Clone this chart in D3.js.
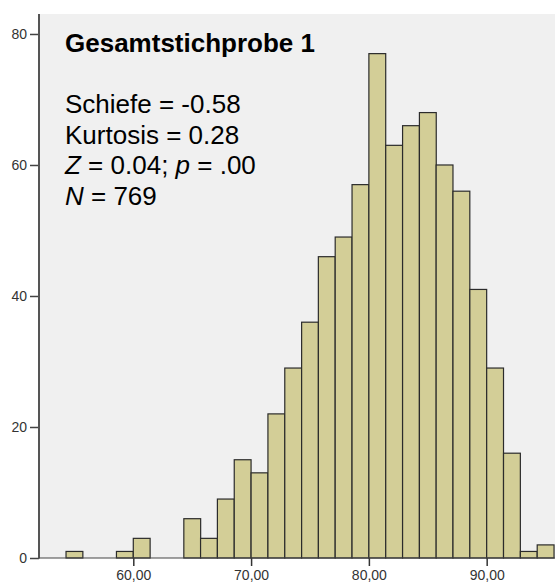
<!DOCTYPE html>
<html><head><meta charset="utf-8">
<script src="https://cdn.jsdelivr.net/npm/d3@7"></script>
<style>
html,body{margin:0;padding:0;background:#fff;}
svg{display:block;font-family:Arial,"Liberation Sans",sans-serif;}
</style></head>
<body>
<script>
// bin lower edges (width 10/7) and counts
const binStarts = [54.29, 58.57, 60.00, 64.29, 65.71, 67.14, 68.57, 70.00, 71.43, 72.86, 74.29, 75.71, 77.14, 78.57, 80.00, 81.43, 82.86, 84.29, 85.71, 87.14, 88.57, 90.00, 91.43, 92.86, 94.29];
const counts    = [1,     1,     3,     6,     3,     9,     15,    13,    22,    29,    36,    46,    49,    57,    77,    63,    66,    68,    60,    56,    41,    29,    16,    1,     2];
const binWidth = 1.4286;
const xTicks = [60, 70, 80, 90];
const xTickLabels = ["60,00", "70,00", "80,00", "90,00"];
const yTicks = [0, 20, 40, 60, 80];
const title = "Gesamtstichprobe 1";
const statLines = [
  [["Schiefe = -0.58", false]],
  [["Kurtosis = 0.28", false]],
  [["Z", true], [" = 0.04; ", false], ["p", true], [" = .00", false]],
  [["N", true], [" = 769", false]]
];

const W = 555, H = 584;
const svg = d3.select("body").append("svg").attr("width", W).attr("height", H);

const x = d3.scaleLinear().domain([52.08, 95.8]).range([40, 555]);
const y = d3.scaleLinear().domain([0, 83.05]).range([558, 14]);

// plot background
svg.append("rect").attr("x", 40).attr("y", 14).attr("width", W - 40).attr("height", 558 - 14).attr("fill", "#f0f0f0");

// bars
svg.append("g").selectAll("rect").data(binStarts.map((s, i) => ({s, c: counts[i]})))
  .join("rect")
  .attr("x", d => x(d.s))
  .attr("y", d => y(d.c))
  .attr("width", d => x(d.s + binWidth) - x(d.s))
  .attr("height", d => y(0) - y(d.c))
  .attr("fill", "#d3ce97")
  .attr("stroke", "#2b2b2b")
  .attr("stroke-width", 1.2);

// y axis
const yAxis = d3.axisLeft(y).tickValues(yTicks).tickSize(9).tickPadding(3).tickFormat(d3.format("d"));
const gy = svg.append("g").attr("transform", "translate(39,0)").call(yAxis);
gy.select(".domain").remove();
gy.selectAll(".tick line").attr("stroke", "#444").attr("stroke-width", 1.5);
gy.selectAll(".tick text").attr("font-size", 14).attr("fill", "#333").attr("font-family", "Arial,'Liberation Sans',sans-serif");
svg.append("line").attr("x1", 39).attr("x2", 39).attr("y1", 14).attr("y2", 558.5).attr("stroke", "#555").attr("stroke-width", 2);

// x axis
const xAxis = d3.axisBottom(x).tickValues(xTicks).tickSize(8).tickPadding(4).tickFormat((d, i) => xTickLabels[i]);
const gx = svg.append("g").attr("transform", "translate(0,558)").call(xAxis);
gx.select(".domain").remove();
gx.selectAll(".tick line").attr("stroke", "#333").attr("stroke-width", 1.5);
gx.selectAll(".tick text").attr("font-size", 14).attr("fill", "#333").attr("font-family", "Arial,'Liberation Sans',sans-serif");
svg.append("line").attr("x1", 39).attr("x2", W).attr("y1", 558).attr("y2", 558).attr("stroke", "#444").attr("stroke-width", 1.2);

// annotation
svg.append("text").attr("x", 65).attr("y", 52).attr("font-size", 26).attr("font-weight", "bold").attr("fill", "#000").text(title);
const ann = svg.append("g");
statLines.forEach((parts, i) => {
  const t = ann.append("text").attr("x", 65).attr("y", 113.3 + i * 30.5).attr("font-size", 26).attr("fill", "#000");
  parts.forEach(([s, it]) => t.append("tspan").attr("font-style", it ? "italic" : "normal").text(s));
});
</script>
</body></html>
